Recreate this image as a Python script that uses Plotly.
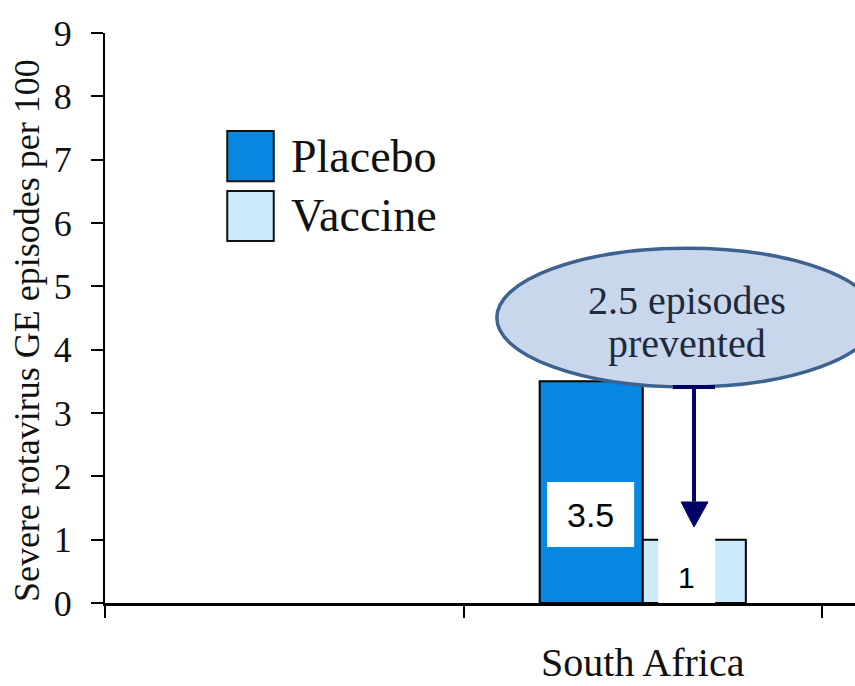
import plotly.graph_objects as go

# Data
categories = [" ", "South Africa"]
series_names = ["Placebo", "Vaccine"]
placebo = [None, 3.5]
vaccine = [None, 1.0]
y_ticks = [0, 1, 2, 3, 4, 5, 6, 7, 8, 9]
bar_labels = ["3.5", "1"]
callout_lines = ["2.5 episodes", "prevented"]
y_title = "Severe rotavirus GE episodes per 100"

colors = {"Placebo": "#0788e0", "Vaccine": "#cceafb"}
serif = "Liberation Serif, Times New Roman, serif"
sans = "Liberation Sans, Arial, sans-serif"

fig = go.Figure()
for name, vals in zip(series_names, [placebo, vaccine]):
    fig.add_trace(go.Bar(
        x=categories, y=vals, name=name,
        marker=dict(color=colors[name], line=dict(color="black", width=2)),
        showlegend=False,
    ))

fig.update_layout(
    width=855, height=686,
    margin=dict(l=105, r=0, t=33, b=83, autoexpand=False),
    paper_bgcolor="white", plot_bgcolor="white",
    barmode="group", bargap=0.425, bargroupgap=0,
    xaxis=dict(
        type="category", categoryorder="array", categoryarray=categories,
        range=[-0.5, 1.592], tickson="boundaries", automargin=False,
        ticks="outside", ticklen=12, tickwidth=2, tickcolor="black",
        showline=True, linecolor="black", linewidth=3,
        showgrid=False, zeroline=False,
        tickfont=dict(family=serif, size=40, color="#111"),
        ticklabelstandoff=22,
    ),
    yaxis=dict(
        range=[0, 9], tickvals=y_ticks, automargin=False,
        ticks="outside", ticklen=12, tickwidth=2, tickcolor="black",
        showline=True, linecolor="black", linewidth=2,
        showgrid=False, zeroline=False,
        tickfont=dict(family=serif, size=36, color="#111"),
        ticklabelstandoff=12,
    ),
)

# Rotated axis title
fig.add_annotation(
    text=y_title, textangle=-90, xref="paper", yref="paper",
    x=0, y=0.477, xshift=-78, xanchor="center", yanchor="middle",
    showarrow=False, font=dict(family=serif, size=36, color="#111"),
)

# Legend swatches and labels
legend_rows = [(0.828, 0.740), (0.723, 0.635)]
for (top, bot), name in zip(legend_rows, series_names):
    fig.add_shape(type="rect", xref="paper", yref="paper",
                  x0=0.163, x1=0.225, y0=bot, y1=top,
                  fillcolor=colors[name], line=dict(color="#111", width=2))
    fig.add_annotation(text=name, xref="paper", yref="paper",
                       x=0.245, y=(top + bot) / 2, xanchor="left", yanchor="middle",
                       showarrow=False, font=dict(family=serif, size=46, color="#111"))

# Value label boxes
fig.add_shape(type="rect", xref="x", yref="y", x0=0.733, x1=0.976, y0=0.884, y1=1.91,
              fillcolor="white", line=dict(width=0), layer="above")
fig.add_annotation(text=bar_labels[0], xref="x", yref="y", x=0.853, y=1.39,
                   showarrow=False, font=dict(family=sans, size=34, color="black"))
fig.add_shape(type="rect", xref="x", yref="y", x0=1.043, x1=1.202, y0=-0.03, y1=1.25,
              fillcolor="white", line=dict(width=0), layer="above")
fig.add_annotation(text=bar_labels[1], xref="x", yref="y", x=1.123, y=0.395,
                   showarrow=False, font=dict(family=sans, size=30, color="black"))

# Callout ellipse
fig.add_shape(type="circle", xref="x", yref="y", x0=0.593, x1=1.653, y0=3.41, y1=5.6,
              fillcolor="#c8d7eb", line=dict(color="#3d6290", width=3.5), layer="above")
for line_text, yc in zip(callout_lines, [4.78, 4.105]):
    fig.add_annotation(text=line_text, xref="x", yref="y", x=1.123, y=yc,
                       showarrow=False, font=dict(family=serif, size=40, color="#1f2a3c"))

# Arrow from callout to vaccine bar
navy = "#000066"
fig.add_shape(type="line", xref="x", yref="y", x0=1.084, x1=1.2015, y0=3.41, y1=3.41,
              line=dict(color=navy, width=4), layer="above")
fig.add_shape(type="line", xref="x", yref="y", x0=1.143, x1=1.143, y0=3.41, y1=1.6,
              line=dict(color=navy, width=4), layer="above")
fig.add_shape(type="path", xref="x", yref="y",
              path="M 1.107 1.595 L 1.182 1.595 L 1.143 1.2 Z",
              fillcolor=navy, line=dict(color=navy, width=1), layer="above")

fig.write_html("out.html")
